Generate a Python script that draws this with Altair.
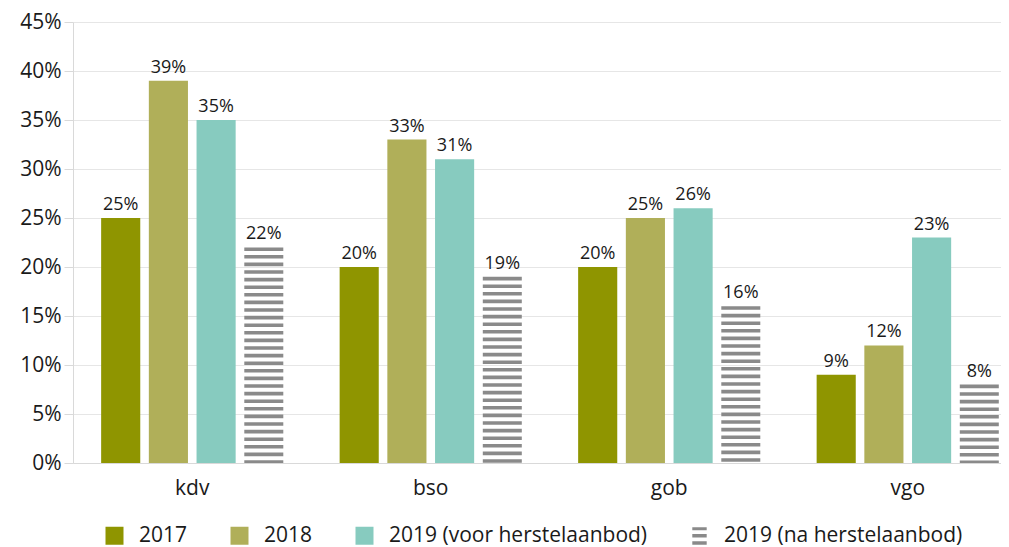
import altair as alt
import pandas as pd

categories = ["kdv", "bso", "gob", "vgo"]
series = ["2017", "2018", "2019 (voor herstelaanbod)", "2019 (na herstelaanbod)"]
v2017 = [0.25, 0.20, 0.20, 0.09]
v2018 = [0.39, 0.33, 0.25, 0.12]
v2019_voor = [0.35, 0.31, 0.26, 0.23]
v2019_na = [0.22, 0.19, 0.16, 0.08]
colors = ["#8f9500", "#b0af59", "#87cbbf", "#8a8a8a"]
stripe_path = ("M-0.8,-0.95H0.8V-0.6H-0.8Z M-0.8,-0.2H0.8V0.2H-0.8Z "
               "M-0.8,0.6H0.8V1H-0.8Z")
shapes = ["square", "square", "square", stripe_path]

rows = []
for vals, s in zip([v2017, v2018, v2019_voor, v2019_na], series):
    for c, v in zip(categories, vals):
        rows.append({"cat": c, "series": s, "value": v})
df = pd.DataFrame(rows)

FONT = "Open Sans"
TXT = "#1a1a1a"

x_enc = alt.X("cat:N", sort=categories, title=None,
              scale=alt.Scale(range=[0, 954], paddingInner=0, paddingOuter=0),
              axis=alt.Axis(labelFontSize=21, labelPadding=14, ticks=False,
                            domainColor="#d9d9d9", labelColor=TXT, labelAngle=0,
                            labelFont=FONT, grid=False))
xo_enc = alt.XOffset("series:N", sort=series,
                     scale=alt.Scale(paddingInner=0.18, paddingOuter=0.59))
y_enc = alt.Y("value:Q", title=None,
              scale=alt.Scale(domain=[0, 0.45], nice=False),
              axis=alt.Axis(format=".0%", values=[i * 0.05 for i in range(10)],
                            labelFontSize=21, labelPadding=3, tickSize=9,
                            tickColor="#d9d9d9", domainColor="#d9d9d9",
                            gridColor="#e6e6e6", labelColor=TXT,
                            labelFont=FONT))
color_scale = alt.Scale(domain=series, range=colors)
legend = alt.Legend(orient="none", legendX=31, legendY=503,
                    direction="horizontal", symbolSize=324,
                    symbolOpacity=1, symbolStrokeWidth=0,
                    labelFontSize=21, labelFont=FONT,
                    labelColor=TXT, labelOffset=14,
                    columnPadding=41, labelLimit=400)

base = alt.Chart(df)

bars = base.transform_filter(
    alt.datum.series != series[3]
).mark_bar().encode(
    x=x_enc, xOffset=xo_enc, y=y_enc,
    color=alt.Color("series:N", scale=color_scale, title=None, legend=legend),
)

hatch = base.transform_filter(
    alt.datum.series == series[3]
).mark_rule(strokeWidth=39, strokeDash=[3.6, 4], strokeCap="butt", color="#8a8a8a").encode(
    x=x_enc, xOffset=xo_enc, y=y_enc, y2=alt.datum(0),
)

labels = base.mark_text(baseline="bottom", dy=-4, fontSize=18, font=FONT, color=TXT).encode(
    x=x_enc, xOffset=xo_enc, y=y_enc,
    text=alt.Text("value:Q", format=".0%"),
)

legend_pts = base.mark_point(filled=True, opacity=0).encode(
    x=x_enc, xOffset=xo_enc, y=y_enc,
    color=alt.Color("series:N", scale=color_scale, title=None, legend=legend),
    shape=alt.Shape("series:N", scale=alt.Scale(domain=series, range=shapes),
                    title=None, legend=legend),
)

chart = alt.layer(bars, hatch, labels, legend_pts).properties(
    width=927, height=441,
    autosize=alt.AutoSizeParams(type="none"),
    padding={"left": 65, "top": 14, "right": 1, "bottom": 84},
).configure_view(stroke=None).configure_axis(labelFont=FONT)

chart.save("out.html", embed_options={"renderer": "svg", "actions": False})
